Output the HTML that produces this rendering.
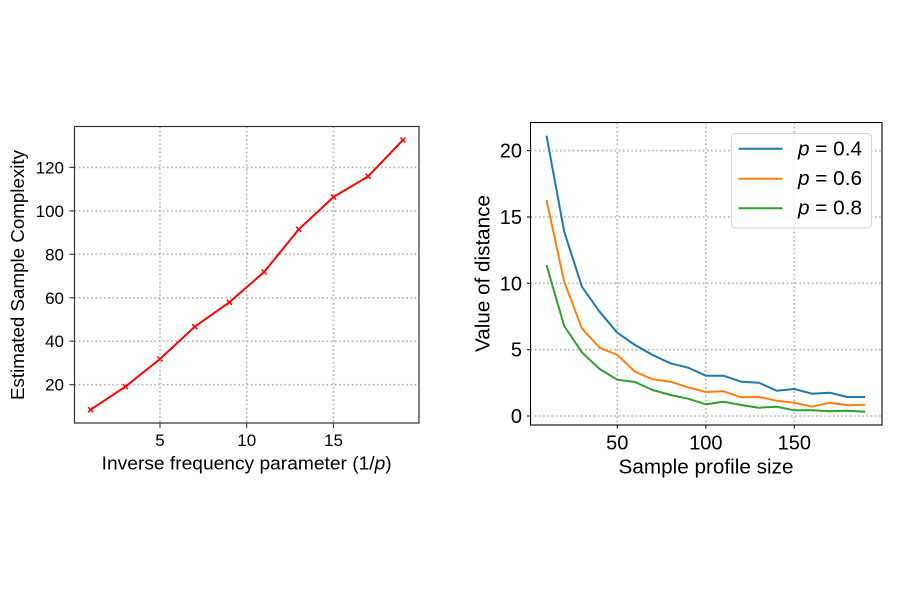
<!DOCTYPE html>
<html>
<head>
<meta charset="utf-8">
<style>
html,body{margin:0;padding:0;background:#fff;}
svg{display:block;}
text{font-family:"Liberation Sans",Arial,sans-serif;fill:#000;}
</style>
</head>
<body>
<svg width="900" height="600" viewBox="0 0 900 600" xmlns="http://www.w3.org/2000/svg">
<rect width="900" height="600" fill="#fff"/>

<!-- LEFT CHART -->
<g stroke="#b0b0b0" stroke-width="1.6" stroke-dasharray="1.6,2.6" fill="none">
  <line x1="160" y1="126.5" x2="160" y2="423"/>
  <line x1="246.7" y1="126.5" x2="246.7" y2="423"/>
  <line x1="333.5" y1="126.5" x2="333.5" y2="423"/>
  <line x1="74.5" y1="384.7" x2="419" y2="384.7"/>
  <line x1="74.5" y1="341.2" x2="419" y2="341.2"/>
  <line x1="74.5" y1="297.8" x2="419" y2="297.8"/>
  <line x1="74.5" y1="254.3" x2="419" y2="254.3"/>
  <line x1="74.5" y1="210.9" x2="419" y2="210.9"/>
  <line x1="74.5" y1="167.4" x2="419" y2="167.4"/>
</g>
<polyline fill="none" stroke="#ff0000" stroke-width="2" stroke-linejoin="round"
 points="90.6,409.7 125.3,386.7 160,359 194.7,326.7 229.4,302.3 264.1,272 298.8,229.3 333.5,197 368.2,176.3 402.9,140"/>
<g stroke="#ff0000" stroke-width="1.5">
  <path d="M88.1,407.2l5,5M93.1,407.2l-5,5"/>
  <path d="M122.8,384.2l5,5M127.8,384.2l-5,5"/>
  <path d="M157.5,356.5l5,5M162.5,356.5l-5,5"/>
  <path d="M192.2,324.2l5,5M197.2,324.2l-5,5"/>
  <path d="M226.9,299.8l5,5M231.9,299.8l-5,5"/>
  <path d="M261.6,269.5l5,5M266.6,269.5l-5,5"/>
  <path d="M296.3,226.8l5,5M301.3,226.8l-5,5"/>
  <path d="M331,194.5l5,5M336,194.5l-5,5"/>
  <path d="M365.7,173.8l5,5M370.7,173.8l-5,5"/>
  <path d="M400.4,137.5l5,5M405.4,137.5l-5,5"/>
</g>
<rect x="74.5" y="126.5" width="344.5" height="296.5" fill="none" stroke="#333" stroke-width="1.2"/>
<g stroke="#333" stroke-width="1.1">
  <line x1="160" y1="423" x2="160" y2="428"/>
  <line x1="246.7" y1="423" x2="246.7" y2="428"/>
  <line x1="333.5" y1="423" x2="333.5" y2="428"/>
  <line x1="69.5" y1="384.7" x2="74.5" y2="384.7"/>
  <line x1="69.5" y1="341.2" x2="74.5" y2="341.2"/>
  <line x1="69.5" y1="297.8" x2="74.5" y2="297.8"/>
  <line x1="69.5" y1="254.3" x2="74.5" y2="254.3"/>
  <line x1="69.5" y1="210.9" x2="74.5" y2="210.9"/>
  <line x1="69.5" y1="167.4" x2="74.5" y2="167.4"/>
</g>
<g font-size="17" text-anchor="middle">
  <text x="160" y="446">5</text>
  <text x="246.7" y="446">10</text>
  <text x="333.5" y="446">15</text>
</g>
<g font-size="17" text-anchor="end">
  <text x="64" y="390.7">20</text>
  <text x="64" y="347.2">40</text>
  <text x="64" y="303.8">60</text>
  <text x="64" y="260.3">80</text>
  <text x="64" y="216.9">100</text>
  <text x="64" y="173.4">120</text>
</g>
<text x="246.7" y="469.5" font-size="18.5" text-anchor="middle" textLength="290" lengthAdjust="spacingAndGlyphs">Inverse frequency parameter (1<tspan>/</tspan><tspan font-style="italic">p</tspan>)</text>
<text transform="translate(24,275) rotate(-90)" font-size="18.5" text-anchor="middle" textLength="250" lengthAdjust="spacingAndGlyphs">Estimated Sample Complexity</text>

<!-- RIGHT CHART -->
<g stroke="#b0b0b0" stroke-width="1.6" stroke-dasharray="1.6,2.6" fill="none">
  <line x1="617.3" y1="122.5" x2="617.3" y2="425"/>
  <line x1="705.8" y1="122.5" x2="705.8" y2="425"/>
  <line x1="794.3" y1="122.5" x2="794.3" y2="425"/>
  <line x1="530.5" y1="416" x2="882" y2="416"/>
  <line x1="530.5" y1="349.7" x2="882" y2="349.7"/>
  <line x1="530.5" y1="283.3" x2="882" y2="283.3"/>
  <line x1="530.5" y1="217" x2="882" y2="217"/>
  <line x1="530.5" y1="150.6" x2="882" y2="150.6"/>
</g>
<g fill="none" stroke-width="2" stroke-linejoin="round">
<polyline stroke="#1f77b4" points="546.5,135.7 564.2,231.7 581.9,286.7 599.6,311.7 617.3,332.7 635,345 652.7,355 670.4,363.3 688.1,367.7 705.8,375.7 723.5,375.7 741.2,381.7 758.9,382.7 776.6,390.7 794.3,389 812,393.7 829.7,392.7 847.4,397 865.1,397"/>
<polyline stroke="#ff7f0e" points="546.5,200 564.2,281.7 581.9,328.3 599.6,347.7 617.3,355 635,371.7 652.7,379.3 670.4,381.7 688.1,387.3 705.8,392 723.5,391.3 741.2,397.3 758.9,397 776.6,400.7 794.3,402.7 812,406.7 829.7,402.7 847.4,405.3 865.1,404.7"/>
<polyline stroke="#2ca02c" points="546.5,265 564.2,326 581.9,352.3 599.6,369 617.3,379.7 635,382 652.7,390 670.4,395 688.1,398.7 705.8,404.3 723.5,401.7 741.2,405 758.9,407.7 776.6,406.7 794.3,410.3 812,410.3 829.7,411.3 847.4,410.7 865.1,411.7"/>
</g>
<rect x="530.5" y="122.5" width="351.5" height="302.5" fill="none" stroke="#000" stroke-width="1.1"/>
<g stroke="#000" stroke-width="1">
  <line x1="617.3" y1="425" x2="617.3" y2="428.5"/>
  <line x1="705.8" y1="425" x2="705.8" y2="428.5"/>
  <line x1="794.3" y1="425" x2="794.3" y2="428.5"/>
  <line x1="527" y1="416" x2="530.5" y2="416"/>
  <line x1="527" y1="349.7" x2="530.5" y2="349.7"/>
  <line x1="527" y1="283.3" x2="530.5" y2="283.3"/>
  <line x1="527" y1="217" x2="530.5" y2="217"/>
  <line x1="527" y1="150.6" x2="530.5" y2="150.6"/>
</g>
<g font-size="20" text-anchor="middle">
  <text x="617.3" y="449.5">50</text>
  <text x="705.8" y="449.5">100</text>
  <text x="794.3" y="449.5">150</text>
</g>
<g font-size="20" text-anchor="end">
  <text x="522" y="423">0</text>
  <text x="522" y="356.7">5</text>
  <text x="522" y="290.3">10</text>
  <text x="522" y="224">15</text>
  <text x="522" y="157.6">20</text>
</g>
<text x="706" y="473.5" font-size="20.5" text-anchor="middle" textLength="175" lengthAdjust="spacingAndGlyphs">Sample profile size</text>
<text transform="translate(489.5,273.5) rotate(-90)" font-size="20.5" text-anchor="middle" textLength="157" lengthAdjust="spacingAndGlyphs">Value of distance</text>

<!-- legend -->
<rect x="731.5" y="133.5" width="140" height="94.5" rx="4" ry="4" fill="#fff" fill-opacity="0.85" stroke="#d5d5d5" stroke-width="1"/>
<g stroke-width="2">
  <line x1="738.5" y1="148.7" x2="782.5" y2="148.7" stroke="#1f77b4"/>
  <line x1="738.5" y1="178.7" x2="782.5" y2="178.7" stroke="#ff7f0e"/>
  <line x1="738.5" y1="208.3" x2="782.5" y2="208.3" stroke="#2ca02c"/>
</g>
<g font-size="20">
  <text x="798" y="155.7" textLength="64" lengthAdjust="spacingAndGlyphs"><tspan font-style="italic">p</tspan> = 0.4</text>
  <text x="798" y="185.2" textLength="64" lengthAdjust="spacingAndGlyphs"><tspan font-style="italic">p</tspan> = 0.6</text>
  <text x="798" y="214.5" textLength="64" lengthAdjust="spacingAndGlyphs"><tspan font-style="italic">p</tspan> = 0.8</text>
</g>
</svg>
</body>
</html>
